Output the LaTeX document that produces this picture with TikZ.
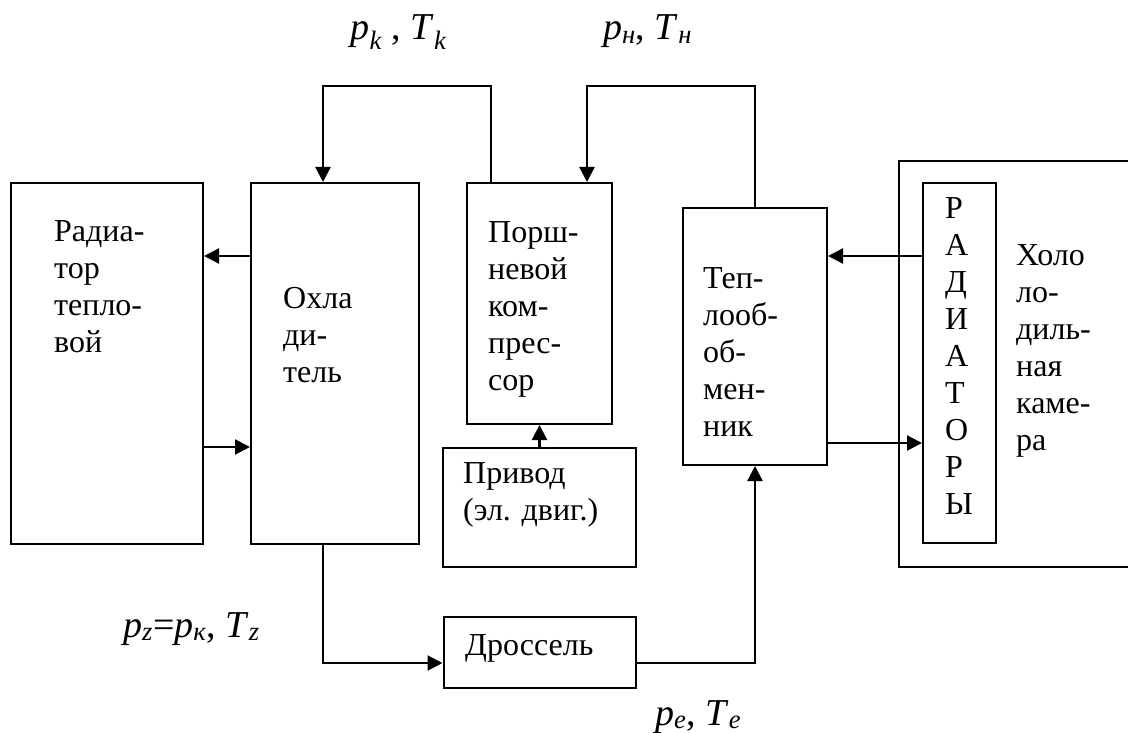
\documentclass[tikz,border=0pt]{standalone}
\usepackage{fontspec}
\setmainfont{Liberation Serif}
\usetikzlibrary{arrows.meta, positioning}

\newcommand{\ix}[2]{\textit{#1}\textsubscript{\textit{#2}}}

\begin{document}
\begin{tikzpicture}[
  x=1pt, y=-1pt,
  box/.style={rectangle, draw=black, line width=2pt, inner sep=0pt},
  txt/.style={anchor=north west, inner sep=0pt, align=left,
              font=\fontsize{32}{37}\selectfont, execute at begin node=\strut},
  lbl/.style={anchor=base west, inner sep=0pt, font=\fontsize{38}{44}\selectfont},
  arrow/.style={-{Triangle[length=15pt, width=15pt]}, line width=2.2pt}
]
\useasboundingbox (0,0) rectangle (1128,733);

% boxes
\node[box, minimum width=192pt, minimum height=361pt] (rad) at (107,363.5) {};
\node[box, minimum width=168pt, minimum height=361pt, right=46pt of rad] (okhl) {};
\node[box, minimum width=145pt, minimum height=241pt,
      right=46pt of okhl.north east, anchor=north west] (komp) {};
\node[box, minimum width=193pt, minimum height=119pt, below=22pt of komp] (priv) {};
\node[box, minimum width=192pt, minimum height=71pt, below=48pt of priv] (dross) {};
\node[box, minimum width=144pt, minimum height=257pt,
      below right=25pt and 69pt of komp.north east, anchor=north west] (teplo) {};
\node[box, minimum width=241pt, minimum height=406pt] (kamera) at (1019.5,364) {};
\node[box, minimum width=73pt, minimum height=360pt] (rads) at (959.5,363) {};

% texts
\node[txt] (radtxt) at (54,220) {Радиа-\\тор\\тепло-\\вой};
\node[txt] (okhltxt) at (283,287) {Охла\\ди-\\тель};
\node[txt] (komptxt) at (488,221) {Порш-\\невой\\ком-\\прес-\\сор};
\node[txt] (privtxt) at (463,462) {Привод\\(эл. двиг.)};
\node[txt] (drosstxt) at (465,629) {Дроссель};
\node[txt] (teplotxt) at (703,267) {Теп-\\лооб-\\об-\\мен-\\ник};
\node[txt] (radstxt) at (945,197) {Р\\А\\Д\\И\\А\\Т\\О\\Р\\Ы};
\node[txt] (kamtxt) at (1016,244) {Холо\\ло-\\диль-\\ная\\каме-\\ра};

\node[lbl, anchor=base east] (lk) at (447,40) {\ix{p}{k} , \ix{T}{k}};
\node[lbl] (lh) at (603,40) {\ix{p}{н}, \ix{T}{н}};
\node[lbl] (lz) at (123,637) {\ix{p}{z}=\ix{p}{к}, \ix{T}{z}};
\node[lbl] (le) at (655,725) {\ix{p}{e}, \ix{T}{e}};

% rows of the side arrows
\coordinate (rowA) at (0,256);
\coordinate (rowB) at (0,447);
\coordinate (rowC) at (0,443);

% connectors
\draw[arrow] (okhl.west |- rowA) -- (rad.east |- rowA);
\draw[arrow] (rad.east |- rowB) -- (okhl.west |- rowB);
\draw[arrow] ([xshift=-48.5pt]komp.north) -- ++(0,-96) -| ([xshift=-12pt]okhl.north);
\draw[arrow] (teplo.north) -- ++(0,-121) -| ([xshift=47.5pt]komp.north);
\draw[arrow] (priv) -- (komp);
\draw[arrow] ([xshift=-12pt]okhl.south) |- ([yshift=-10.5pt]dross.west);
\draw[arrow] ([yshift=-10.5pt]dross.east) -| (teplo.south);
\draw[arrow] (rads.west |- rowA) -- (teplo.east |- rowA);
\draw[arrow] (teplo.east |- rowC) -- (rads.west |- rowC);
\end{tikzpicture}
\end{document}
